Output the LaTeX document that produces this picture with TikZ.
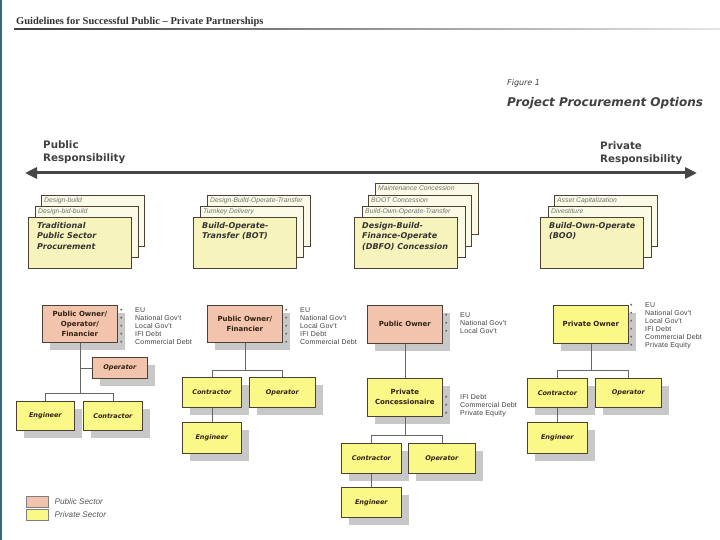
\documentclass[tikz,border=0pt]{standalone}
\usepackage{fontspec}
\setmainfont{DejaVu Sans}
\newfontfamily\listfont[LetterSpace=3]{Liberation Sans}
\newfontfamily\smallfont{Liberation Sans}
\newfontfamily\titlefont{Liberation Serif}
\usetikzlibrary{arrows.meta,shadows}

\definecolor{pubfill}{RGB}{242,196,174}
\definecolor{privfill}{RGB}{250,248,135}
\definecolor{frontfill}{RGB}{246,243,188}
\definecolor{backfill}{RGB}{251,250,230}
\definecolor{shadowgray}{RGB}{200,200,200}
\definecolor{inkgray}{RGB}{70,70,70}
\definecolor{edgegray}{RGB}{75,65,55}
\definecolor{stripe}{RGB}{55,105,125}

\newcommand{\srcdot}{\textcolor{black!60}{\textbullet}}

\tikzset{
  backbox/.style={draw=edgegray, line width=0.6pt, fill=backfill, minimum width=103pt, minimum height=51pt, anchor=north west, inner sep=0pt},
  frontbox/.style={backbox, fill=frontfill},
  backtxt/.style={anchor=north west, inner xsep=3pt, inner ysep=2pt, font=\smallfont\itshape\fontsize{6.8}{7}\selectfont, text=black!55},
  fronttxt/.style={anchor=north west, inner xsep=9pt, inner ysep=5pt, align=left, font=\bfseries\itshape\fontsize{8}{10.5}\selectfont, text=black!80},
  orgbox/.style={draw=edgegray, line width=0.7pt, anchor=north west, inner sep=0pt, align=center, text=black!75!brown, drop shadow={shadow xshift=8pt, shadow yshift=-8pt, fill=shadowgray, opacity=1}},
  pubbox/.style={orgbox, fill=pubfill, font=\bfseries\fontsize{7}{10}\selectfont},
  privbox/.style={orgbox, fill=privfill, font=\bfseries\fontsize{7}{10}\selectfont},
  roletxt/.style={font=\bfseries\itshape\fontsize{6.5}{8}\selectfont},
  srclist/.style={anchor=north west, inner sep=0pt, font=\listfont\fontsize{7}{8}\selectfont, text=black!75},
  legtxt/.style={anchor=west, inner sep=0pt, font=\smallfont\itshape\fontsize{8.2}{9}\selectfont, text=black!65},
  link/.style={draw=black!60, line width=0.6pt},
  resparrow/.style={draw=inkgray, line width=3pt, {Triangle[length=12pt,width=11pt]}-{Triangle[length=12pt,width=11pt]}},
}

\begin{document}
\begin{tikzpicture}[x=1pt, y=-1pt]
    % Fond et cadre
    \useasboundingbox (0,0) rectangle (720,540);
    \fill[white] (0,0) rectangle (720,540);
    \fill[stripe] (0,0) rectangle (2,540);

    % En-tete
    \node[anchor=west, inner sep=0pt, font=\titlefont\bfseries\fontsize{10.5}{12}\selectfont, text=black!80] (title) at (16,22) {Guidelines for Successful Public – Private Partnerships};
    \shade[left color=black!75, right color=black!10] (14,29) rectangle (720,30);
    \node[anchor=west, inner sep=0pt, font=\itshape\fontsize{8}{10}\selectfont, text=black!75] (fignum) at (507,83) {Figure 1};
    \node[anchor=west, inner sep=0pt, font=\bfseries\itshape\fontsize{12}{14}\selectfont, text=black!75] (figtitle) at (507,103) {Project Procurement Options};

    % Axe des responsabilites
    \node[anchor=north west, align=left, inner sep=0pt, font=\bfseries\fontsize{10.3}{13}\selectfont, text=black!75] (pubresp) at (43,140) {Public\\Responsibility};
    \node[anchor=north west, align=left, inner sep=0pt, font=\bfseries\fontsize{10.3}{13}\selectfont, text=black!75] (privresp) at (600,141) {Private\\Responsibility};
    \coordinate (respL) at (25,173);
    \coordinate (respR) at (697,173);
    \draw[resparrow] (respL) -- (respR);

    % Pile 1 : procedure traditionnelle
    \node[backbox] (S1c) at (41,195) {};
    \node[backtxt] (S1ct) at (S1c.north west) {Design-build};
    \node[backbox] (S1b) at (35,206) {};
    \node[backtxt] (S1bt) at (S1b.north west) {Design-bid-build};
    \node[frontbox] (S1a) at (28,217) {};
    \node[fronttxt] (S1at) at (S1a.north west) {Traditional\\Public Sector\\Procurement};

    % Pile 2 : BOT
    \node[backbox] (S2c) at (207,195) {};
    \node[backtxt] (S2ct) at (S2c.north west) {Design-Build-Operate-Transfer};
    \node[backbox] (S2b) at (200,206) {};
    \node[backtxt] (S2bt) at (S2b.north west) {Turnkey Delivery};
    \node[frontbox] (S2a) at (193,217) {};
    \node[fronttxt] (S2at) at (S2a.north west) {Build-Operate-\\Transfer (BOT)};

    % Pile 3 : DBFO
    \node[backbox] (S3d) at (375,183) {};
    \node[backtxt] (S3dt) at (S3d.north west) {Maintenance Concession};
    \node[backbox] (S3c) at (368,195) {};
    \node[backtxt] (S3ct) at (S3c.north west) {BOOT Concession};
    \node[backbox] (S3b) at (362,206) {};
    \node[backtxt] (S3bt) at (S3b.north west) {Build-Own-Operate-Transfer};
    \node[frontbox] (S3a) at (354,217) {};
    \node[fronttxt, inner xsep=8pt] (S3at) at (S3a.north west) {Design-Build-\\Finance-Operate\\(DBFO) Concession};

    % Pile 4 : BOO
    \node[backbox] (S4c) at (554,195) {};
    \node[backtxt] (S4ct) at (S4c.north west) {Asset Capitalization};
    \node[backbox] (S4b) at (548,206) {};
    \node[backtxt] (S4bt) at (S4b.north west) {Divestiture};
    \node[frontbox] (S4a) at (540,217) {};
    \node[fronttxt] (S4at) at (S4a.north west) {Build-Own-Operate\\(BOO)};

    % Organigramme A
    \node[pubbox, minimum width=75pt, minimum height=37pt] (Aown) at (42,305) {Public Owner/\\Operator/\\Financier};
    \node[pubbox, roletxt, minimum width=55pt, minimum height=21pt] (Aop) at (92,357) {Operator};
    \node[privbox, roletxt, minimum width=58pt, minimum height=29pt] (Aeng) at (16,401) {Engineer};
    \node[privbox, roletxt, minimum width=59pt, minimum height=29pt] (Acon) at (83,401) {Contractor};
    \coordinate (Ajn) at ([yshift=8pt]Aeng.north -| Aown.south);
    \draw[link] (Aown.south) -- (Ajn);
    \draw[link] (Aop.west) -- (Aop.west -| Aown.south);
    \draw[link] (Aeng.north) -- (Aeng.north |- Ajn) -- (Acon.north |- Ajn) -- (Acon.north);
    \node[srclist] (Asrc) at (120,306.5) {\begin{tabular}{@{}l@{\hspace{12.5pt}}l@{}}
      \srcdot & EU\\ \srcdot & National Gov't\\ \srcdot & Local Gov't\\ \srcdot & IFI Debt\\ \srcdot & Commercial Debt
    \end{tabular}};

    % Organigramme B
    \node[pubbox, minimum width=75pt, minimum height=37pt] (Bown) at (207,305) {Public Owner/\\Financier};
    \node[privbox, roletxt, minimum width=59pt, minimum height=30pt] (Bcon) at (182,377) {Contractor};
    \node[privbox, roletxt, minimum width=66pt, minimum height=30pt] (Bop) at (249,377) {Operator};
    \node[privbox, roletxt, minimum width=59pt, minimum height=31pt] (Beng) at (182,422) {Engineer};
    \coordinate (Bjn) at ([yshift=7pt]Bcon.north -| Bown.south);
    \draw[link] (Bown.south) -- (Bjn);
    \draw[link] (Bcon.north) -- (Bcon.north |- Bjn) -- (Bop.north |- Bjn) -- (Bop.north);
    \draw[link] (Bcon.south) -- (Beng.north);
    \node[srclist] (Bsrc) at (285,307) {\begin{tabular}{@{}l@{\hspace{12.5pt}}l@{}}
      \srcdot & EU\\ \srcdot & National Gov't\\ \srcdot & Local Gov't\\ \srcdot & IFI Debt\\ \srcdot & Commercial Debt
    \end{tabular}};

    % Organigramme C
    \node[pubbox, minimum width=75pt, minimum height=38pt] (Cown) at (367,305) {Public Owner};
    \node[privbox, minimum width=75pt, minimum height=38pt] (Cconc) at (367,378) {Private\\Concessionaire};
    \node[privbox, roletxt, minimum width=60pt, minimum height=30pt] (Ccon) at (341,443) {Contractor};
    \node[privbox, roletxt, minimum width=67pt, minimum height=30pt] (Cop) at (408,443) {Operator};
    \node[privbox, roletxt, minimum width=60pt, minimum height=30pt] (Ceng) at (341,487) {Engineer};
    \coordinate (Cjn) at ([yshift=8pt]Ccon.north -| Cconc.south);
    \draw[link] (Cown.south) -- (Cconc.north);
    \draw[link] (Cconc.south) -- (Cjn);
    \draw[link] (Ccon.north) -- (Ccon.north |- Cjn) -- (Cop.north |- Cjn) -- (Cop.north);
    \draw[link] (Ccon.south) -- (Ceng.north);
    \node[srclist] (Csrc) at (445,311.5) {\begin{tabular}{@{}l@{\hspace{12.5pt}}l@{}}
      \srcdot & EU\\ \srcdot & National Gov't\\ \srcdot & Local Gov't
    \end{tabular}};
    \node[srclist] (Cconcsrc) at (445,393.5) {\begin{tabular}{@{}l@{\hspace{12.5pt}}l@{}}
      \srcdot & IFI Debt\\ \srcdot & Commercial Debt\\ \srcdot & Private Equity
    \end{tabular}};

    % Organigramme D
    \node[privbox, minimum width=75pt, minimum height=38pt] (Down) at (553,305) {Private Owner};
    \node[privbox, roletxt, minimum width=60pt, minimum height=29pt] (Dcon) at (527,378) {Contractor};
    \node[privbox, roletxt, minimum width=66pt, minimum height=29pt] (Dop) at (595,378) {Operator};
    \node[privbox, roletxt, minimum width=60pt, minimum height=31pt] (Deng) at (527,422) {Engineer};
    \coordinate (Djn) at ([yshift=8pt]Dcon.north -| Down.south);
    \draw[link] (Down.south) -- (Djn);
    \draw[link] (Dcon.north) -- (Dcon.north |- Djn) -- (Dop.north |- Djn) -- (Dop.north);
    \draw[link] (Dcon.south) -- (Deng.north);
    \node[srclist] (Dsrc) at (630,302) {\begin{tabular}{@{}l@{\hspace{12.5pt}}l@{}}
      \srcdot & EU\\ \srcdot & National Gov't\\ \srcdot & Local Gov't\\ \srcdot & IFI Debt\\ \srcdot & Commercial Debt\\ \srcdot & Private Equity
    \end{tabular}};

    % Legende
    \node[draw=black!50, fill=pubfill, minimum width=22pt, minimum height=11pt, anchor=north west, inner sep=0pt] (legpub) at (26,496) {};
    \node[draw=black!50, fill=privfill, minimum width=22pt, minimum height=11pt, anchor=north west, inner sep=0pt] (legpriv) at (26,509) {};
    \node[legtxt] (legpubt) at ([xshift=6pt]legpub.east) {Public Sector};
    \node[legtxt] (legprivt) at ([xshift=6pt]legpriv.east) {Private Sector};
\end{tikzpicture}
\end{document}
